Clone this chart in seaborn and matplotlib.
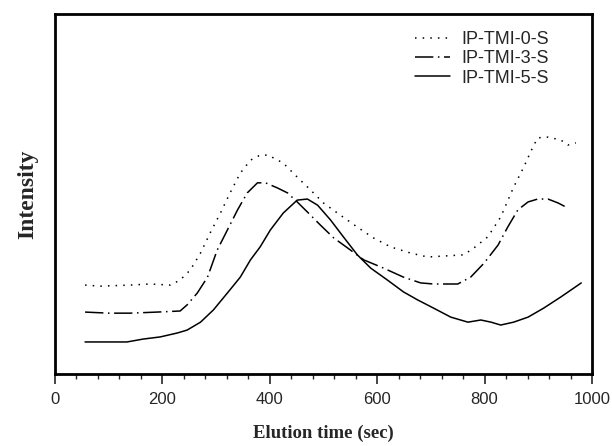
import pandas as pd
import seaborn as sns
import matplotlib.pyplot as plt
from matplotlib.ticker import MultipleLocator

# traces (time in sec, intensity in arbitrary units 0-100)
time_0s = [56, 84, 140, 177, 215, 233, 252, 271, 289, 308, 326, 345, 364, 382, 397,
           425, 451, 476, 500, 526, 563, 593, 625, 662, 694, 761, 780, 806, 830, 854,
           873, 890, 899, 918, 942, 955, 970]
int_0s = [24.7, 24.4, 24.7, 25.0, 24.7, 26.1, 28.9, 33.6, 39.2, 44.7, 50.3, 55.8, 59.4,
          60.8, 60.8, 58.6, 54.7, 51.1, 47.5, 44.7, 40.8, 37.8, 35.3, 33.6, 32.5, 33.1,
          35.0, 38.1, 43.6, 51.9, 57.5, 63.1, 65.6, 65.8, 65.0, 63.6, 64.2]

time_3s = [56, 100, 140, 190, 233, 246, 265, 284, 302, 321, 340, 358, 377, 392, 414,
           433, 451, 470, 494, 519, 545, 575, 612, 649, 681, 705, 750, 774, 799, 825,
           843, 862, 881, 899, 918, 937, 955]
int_3s = [17.2, 16.9, 16.9, 17.2, 17.5, 19.2, 22.5, 26.9, 34.4, 40.0, 45.6, 50.3, 53.1,
          53.1, 51.7, 50.3, 47.8, 45.0, 41.4, 37.8, 35.0, 31.7, 29.4, 26.9, 25.3, 25.0,
          25.0, 26.9, 30.8, 35.8, 40.8, 45.6, 47.8, 48.6, 48.6, 47.5, 46.1]

time_5s = [56, 134, 164, 196, 228, 246, 271, 295, 321, 345, 364, 382, 401, 425, 451,
           470, 489, 513, 537, 563, 588, 619, 649, 675, 705, 737, 769, 793, 812, 830,
           854, 881, 910, 942, 980]
int_5s = [8.9, 8.9, 9.7, 10.3, 11.4, 12.2, 14.4, 17.8, 22.5, 26.9, 31.7, 35.3, 40.0,
          44.7, 48.3, 48.6, 46.9, 42.8, 38.1, 33.1, 29.4, 26.1, 22.8, 20.6, 18.3, 15.8,
          14.4, 15.0, 14.4, 13.6, 14.4, 15.8, 18.3, 21.4, 25.3]

names = ["IP-TMI-0-S", "IP-TMI-3-S", "IP-TMI-5-S"]

df = pd.concat([
    pd.DataFrame({"time": time_0s, "intensity": int_0s, "sample": names[0]}),
    pd.DataFrame({"time": time_3s, "intensity": int_3s, "sample": names[1]}),
    pd.DataFrame({"time": time_5s, "intensity": int_5s, "sample": names[2]}),
])

sns.set_style("white")

fig = plt.figure(figsize=(6.12, 4.46), dpi=100)
ax = fig.add_axes([55 / 612, 1 - 374 / 446, 537 / 612, 360 / 446])

dashes = {names[0]: (1, 4), names[1]: (12, 3, 1, 3), names[2]: ""}
sns.lineplot(data=df, x="time", y="intensity", hue="sample", style="sample",
             palette=["black"] * 3, dashes=dashes, linewidth=1.1, ax=ax)

ax.set_xlim(0, 1000)
ax.set_ylim(0, 100)
ax.set_yticks([])
ax.xaxis.set_major_locator(MultipleLocator(200))
ax.xaxis.set_minor_locator(MultipleLocator(40))
ax.tick_params(axis="x", which="major", direction="out", length=7, width=1.2,
               bottom=True, labelsize=12, pad=6)
ax.tick_params(axis="x", which="minor", direction="out", length=3.5, width=1,
               bottom=True)
for lab in ax.get_xticklabels():
    lab.set_family("Liberation Sans")
for s in ax.spines.values():
    s.set_linewidth(2)
    s.set_color("black")

ax.set_xlabel("Elution time (sec)", family="Liberation Serif", fontweight="bold",
              fontsize=13.5, labelpad=13)
ax.set_ylabel("Intensity", family="Liberation Serif", fontweight="bold",
              fontsize=17, labelpad=12)

leg = ax.legend(loc="upper left", bbox_to_anchor=(0.670, 0.952), frameon=False,
                borderpad=0, borderaxespad=0, handlelength=1.95, handletextpad=0.65,
                labelspacing=0.12, prop={"family": "Liberation Sans", "size": 13})
for line in leg.get_lines():
    line.set_linewidth(1.1)

fig.savefig("out.png", dpi=100)
